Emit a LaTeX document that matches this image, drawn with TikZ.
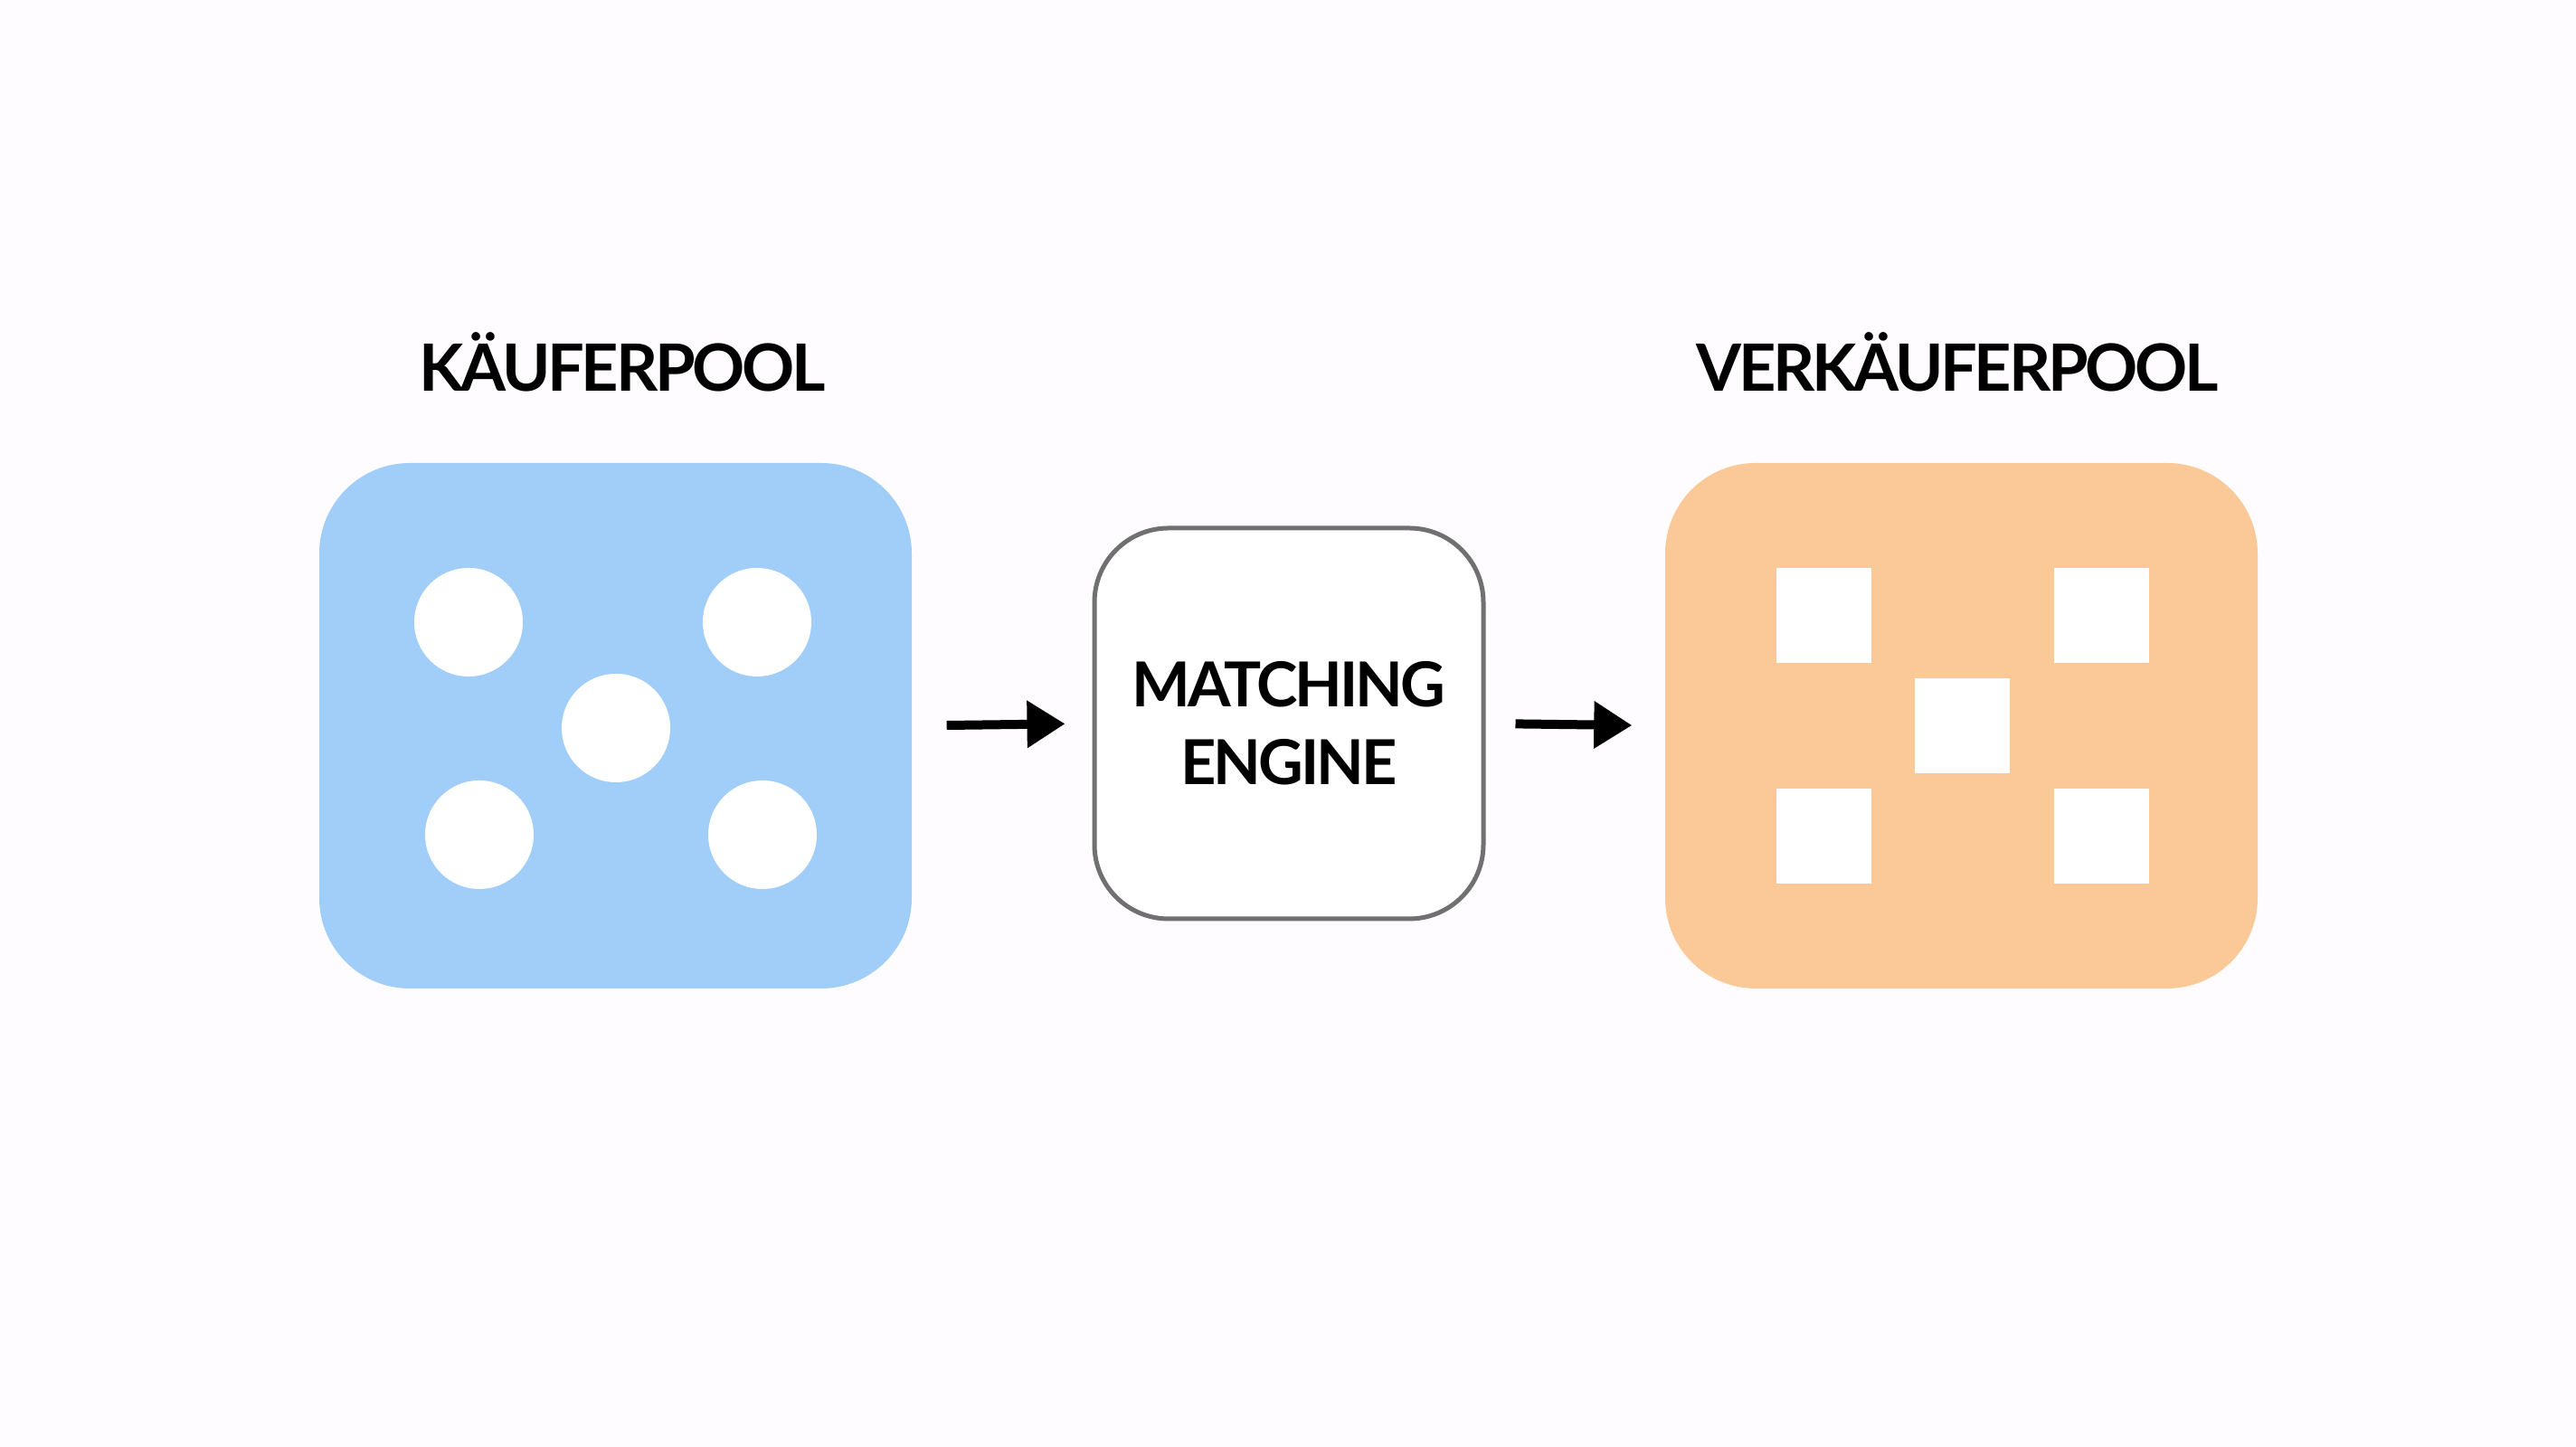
\documentclass[tikz,border=0pt]{standalone}
\usepackage{fontspec}
\setmainfont{Lato}[LetterSpace=-4.5]
\usetikzlibrary{arrows.meta}

\definecolor{buyerblue}{RGB}{161,206,248}
\definecolor{sellerorange}{RGB}{251,201,152}
\definecolor{framegray}{RGB}{112,112,112}
\definecolor{paper}{RGB}{254,252,254}

\tikzset{
  pool/.style={rounded corners=1cm, minimum width=6.55cm, minimum height=5.81cm, inner sep=0pt},
  engine/.style={draw=framegray, line width=0.05cm, rounded corners=0.82cm, fill=white,
    minimum width=4.3cm, minimum height=4.32cm, inner sep=0pt, align=center,
    font=\bfseries\fontsize{19.5}{24.5}\selectfont},
  title/.style={font=\bfseries\fontsize{20.5}{25}\selectfont},
  flow/.style={line width=0.1cm, -{Triangle[length=0.42cm, width=0.5cm]}}
}

\begin{document}
\begin{tikzpicture}
% Canvas
\fill[paper] (0,0) rectangle (28.48,16);
\useasboundingbox (0,0) rectangle (28.48,16);

% Pools and engine
\node[pool, fill=buyerblue] (buyers) at (6.805,7.975) {};
\node[pool, fill=sellerorange] (sellers) at (21.685,7.975) {};
\node[engine] (engine) at (14.25,8.0) {MATCHING\\ENGINE};

% Titles
\node[title] (buyerlabel) at (6.88,12.0) {KÄUFERPOOL};
\node[title] (sellerlabel) at (21.64,12.0) {VERKÄUFERPOOL};

% Buyers (circles)
\foreach \x/\y in {5.18/9.12, 8.37/9.12, 6.81/7.95, 5.30/6.77, 8.43/6.77}
  \fill[white] (\x,\y) circle (0.6);

% Sellers (squares)
\foreach \x/\y in {20.16/9.19, 23.23/9.19, 21.69/7.97, 20.16/6.75, 23.23/6.75}
  \fill[white] (\x-0.525,\y-0.525) rectangle ++(1.05,1.05);

% Arrows
\draw[flow, shorten <=0.38cm, shorten >=0.30cm] (buyers.east) -- (engine.west);
\draw[flow, shorten <=0.33cm, shorten >=0.36cm] (engine.east) -- (sellers.west);
\end{tikzpicture}
\end{document}
